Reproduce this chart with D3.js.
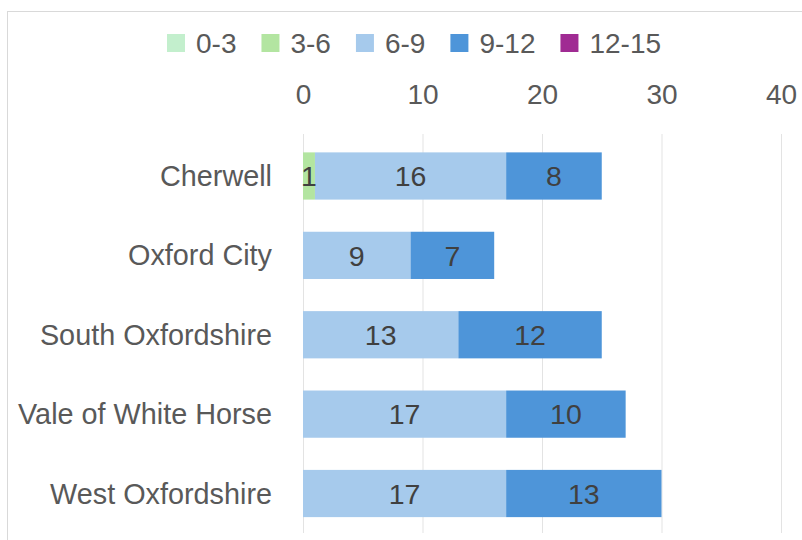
<!DOCTYPE html>
<html>
<head>
<meta charset="utf-8">
<script src="https://cdn.jsdelivr.net/npm/d3@7"></script>
<style>
  html, body { margin: 0; padding: 0; background: #fff; }
  svg { display: block; }
  text { font-family: "Liberation Sans", Arial, sans-serif; }
</style>
</head>
<body>
<svg id="chart" width="802" height="540"></svg>
<script>
// Districts, top to bottom
const districts = ["Cherwell", "Oxford City", "South Oxfordshire", "Vale of White Horse", "West Oxfordshire"];
// Band labels for the stacked segments
const bands = ["0-3", "3-6", "6-9", "9-12", "12-15"];
const bandColors = ["#c3efcd", "#b3e5a1", "#a6caec", "#4e95d9", "#a02b93"];
// Counts per band, one entry per district
const band0to3   = [0, 0, 0, 0, 0];
const band3to6   = [1, 0, 0, 0, 0];
const band6to9   = [16, 9, 13, 17, 17];
const band9to12  = [8, 7, 12, 10, 13];
const band12to15 = [0, 0, 0, 0, 0];
const xTicks = [0, 10, 20, 30, 40];

const seriesValues = [band0to3, band3to6, band6to9, band9to12, band12to15];
const rows = districts.map((d, i) => {
  const r = { district: d };
  bands.forEach((b, j) => { r[b] = seriesValues[j][i]; });
  return r;
});

const svg = d3.select("#chart");

// chart frame
svg.append("rect")
  .attr("x", 7.5).attr("y", 11.5)
  .attr("width", 820).attr("height", 560)
  .attr("fill", "#fff").attr("stroke", "#d9d9d9").attr("stroke-width", 1);

const x = d3.scaleLinear().domain([0, 40]).range([303, 781]);
const y = d3.scaleBand().domain(districts).range([136.5, 533]).paddingInner(0.405).paddingOuter(0.2);

// vertical gridlines
svg.append("g").selectAll("line").data(xTicks).join("line")
  .attr("x1", d => x(d) + 0.5).attr("x2", d => x(d) + 0.5)
  .attr("y1", 134).attr("y2", 533)
  .attr("stroke", "#e3e3e3").attr("stroke-width", 1);

// top value axis
const xAxis = svg.append("g").attr("transform", "translate(0,104)")
  .call(d3.axisTop(x).tickValues(xTicks).tickSize(0).tickPadding(0));
xAxis.select(".domain").remove();
xAxis.selectAll("text")
  .attr("fill", "#595959").attr("font-size", 28)
  .attr("font-family", "Liberation Sans, Arial, sans-serif");

// category axis
const yAxis = svg.append("g").attr("transform", "translate(272,0)")
  .call(d3.axisLeft(y).tickSize(0).tickPadding(0));
yAxis.select(".domain").remove();
yAxis.selectAll("text")
  .attr("fill", "#595959").attr("font-size", 28.8)
  .attr("font-family", "Liberation Sans, Arial, sans-serif")
  .attr("dy", "0.35em");

// stacked bars
const stack = d3.stack().keys(bands);
const layers = stack(rows);

const layerG = svg.append("g").selectAll("g").data(layers).join("g")
  .attr("fill", (d, i) => bandColors[i]);

layerG.selectAll("rect").data(d => d.map(s => ({ s, key: d.key })))
  .join("rect")
  .filter(d => d.s[1] - d.s[0] > 0)
  .attr("x", d => x(d.s[0]))
  .attr("y", d => y(d.s.data.district))
  .attr("width", d => x(d.s[1]) - x(d.s[0]))
  .attr("height", y.bandwidth());

// value labels centred in segments
const labelG = svg.append("g");
layers.forEach(layer => {
  layer.forEach(s => {
    const v = s[1] - s[0];
    if (v <= 0) return;
    labelG.append("text")
      .attr("x", (x(s[0]) + x(s[1])) / 2)
      .attr("y", y(s.data.district) + y.bandwidth() / 2)
      .attr("dy", "0.36em")
      .attr("text-anchor", "middle")
      .attr("fill", "#404040")
      .attr("font-size", 28.5)
      .text(v);
  });
});

// legend
const legend = svg.append("g").attr("transform", "translate(167,0)");
let lx = 0;
bands.forEach((b, i) => {
  const item = legend.append("g").attr("transform", `translate(${lx},0)`);
  item.append("rect").attr("x", 0).attr("y", 34).attr("width", 18).attr("height", 18)
    .attr("fill", bandColors[i]);
  const t = item.append("text").attr("x", 29).attr("y", 53)
    .attr("fill", "#595959").attr("font-size", 28).text(b);
  lx += 29 + t.node().getComputedTextLength() + 25;
});
</script>
</body>
</html>
